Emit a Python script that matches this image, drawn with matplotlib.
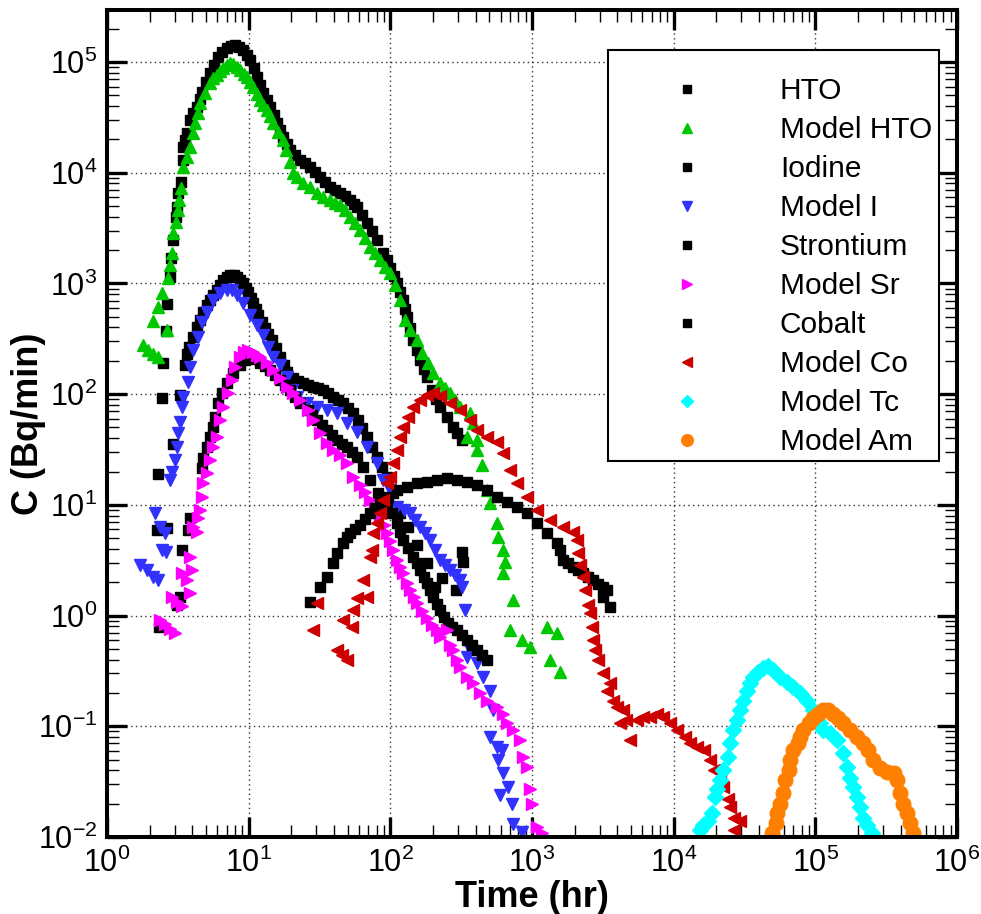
import matplotlib
matplotlib.use("Agg")
import matplotlib.pyplot as plt
from matplotlib.patches import Rectangle
from matplotlib.ticker import FixedLocator, LogFormatterSciNotation, NullFormatter

plt.rcParams['font.family'] = ['Liberation Sans', 'DejaVu Sans']
plt.rcParams['mathtext.fontset'] = 'custom'
plt.rcParams['mathtext.rm'] = 'Liberation Sans'
plt.rcParams['mathtext.it'] = 'Liberation Sans:italic'
plt.rcParams['mathtext.bf'] = 'Liberation Sans:bold'

# ---- data: (time [hr], C [Bq/min]) ----
hto = [(2.25, 5.9), (2.29, 19), (2.44, 92), (2.48, 190), (2.61, 370), (2.65, 650), (2.78, 1140),
       (2.83, 1690), (2.92, 2470), (3.07, 3980), (3.12, 4900), (3.17, 6560), (3.33, 8240),
       (3.44, 13000), (3.44, 17100), (3.55, 19700), (3.67, 22800), (3.85, 29900), (4.05, 34600),
       (4.32, 39200), (4.53, 46300), (4.69, 53600), (5.0, 65900), (5.33, 79500), (5.69, 94000),
       (6.08, 111000), (6.48, 123000), (7.03, 134000), (7.5, 140000), (8.0, 143000), (8.55, 137000),
       (9.12, 128000), (9.73, 116000), (10.2, 104000), (10.9, 88300), (11.5, 73200), (12.0, 62000),
       (12.6, 52500), (13.5, 45400), (14.2, 39200), (15.1, 33200), (15.8, 28100), (16.6, 24300),
       (17.5, 21000), (18.7, 18200), (19.6, 16000), (21.2, 14400), (23.0, 13000), (25.0, 12200),
       (27.1, 11200), (29.4, 10100), (31.9, 9140), (34.6, 8240), (37.5, 7430), (40.7, 6980),
       (44.1, 6560), (47.9, 6160), (51.9, 5660), (55.4, 5210), (58.2, 4900), (63.1, 4150),
       (68.4, 3510), (74.2, 2970), (80.5, 2470), (88.7, 1880), (94.7, 1630), (99.5, 1380),
       (106, 1170), (111, 1010), (117, 836), (123, 708), (127, 590), (131, 497), (138, 395),
       (145, 308), (154, 250), (162, 203), (173, 169), (181, 143), (197, 109), (210, 90.3),
       (224, 76.5), (251, 62.1), (277, 50.4), (296, 44.6), (320, 38.5)]

model_hto = [(1.80, 278), (1.95, 250), (2.11, 230), (2.29, 216), (2.11, 457), (2.29, 612), (2.44, 818),
             (2.65, 379), (2.69, 1120), (2.78, 1470), (2.88, 1880), (2.92, 2850), (3.07, 3590),
             (3.17, 4600), (3.22, 5660), (3.33, 7280), (3.44, 11200), (3.67, 13900), (3.85, 17100),
             (4.05, 22800), (4.18, 28100), (4.39, 34600), (4.53, 42700), (4.92, 52500), (5.33, 64600),
             (5.6, 71700), (5.98, 76300), (6.28, 83000), (6.56, 88000), (7.03, 94000), (7.38, 98000),
             (7.75, 96000), (8.27, 90000), (8.69, 84700), (9.27, 78000), (9.73, 73200), (10.2, 66000),
             (10.7, 59400), (11.5, 51400), (12.0, 45400), (12.6, 40900), (13.5, 36800), (14.2, 32500),
             (14.9, 28100), (16.1, 23300), (17.5, 19700), (18.3, 16000), (19.6, 12500), (20.6, 10000),
             (21.9, 9140), (24.2, 8070), (27.1, 7430), (30.4, 6560), (33.5, 6030), (37.5, 5660),
             (40.7, 5320), (44.1, 5110), (47.9, 4600), (51.9, 3980), (56.3, 3510), (61.1, 3030),
             (66.2, 2570), (71.8, 2130), (78, 1880), (84.5, 1630), (91.7, 1410), (99.5, 1240),
             (108, 968), (117, 708), (127, 467), (138, 379), (154, 308), (167, 235), (184, 191),
             (200, 155), (224, 126), (243, 113), (264, 102), (286, 88.5), (310, 76.4), (365, 67.5),
             (383, 54.8), (409, 38.5), (348, 41), (409, 31.3), (444, 22.9), (481, 13.6), (505, 10.4),
             (566, 6.85), (577, 5.12), (624, 3.91), (647, 3.04), (624, 2.42), (734, 1.38), (699, 0.74),
             (849, 0.60), (968, 0.52), (1276, 0.79), (1500, 0.70), (1340, 0.40), (1577, 0.31)]

iodine = [(2.65, 6.2), (2.92, 35.4), (3.27, 98), (3.55, 183), (3.67, 230), (3.79, 266), (4.05, 328),
          (4.32, 404), (4.53, 467), (4.76, 552), (5.08, 638), (5.33, 708), (5.6, 785), (5.98, 871),
          (6.28, 968), (6.56, 1070), (7.03, 1140), (7.38, 1190), (7.88, 1190), (8.27, 1140),
          (8.69, 1070), (9.12, 1010), (9.58, 908), (9.89, 836), (10.4, 738), (10.7, 665), (11.3, 587),
          (11.6, 519), (12.4, 448), (13.0, 395), (13.7, 350), (14.6, 308), (15.6, 261), (16.6, 216),
          (17.8, 183), (18.7, 158), (20.6, 140), (22.3, 131), (24.2, 126), (26.2, 121), (28.5, 116),
          (30.9, 113), (33.5, 109), (36.3, 102), (39.4, 94), (42.7, 88.5), (46.3, 83.1), (50.3, 74.9),
          (54.5, 67.5), (59.1, 58.3), (63.1, 49.4), (68.4, 41), (74.2, 33.3), (80.5, 27.0),
          (87.3, 21.9), (94.7, 17.8), (104, 12.8), (117, 8.43), (133, 6.3), (154, 4.33), (181, 2.98),
          (207, 1.81), (232, 2.18), (291, 1.70), (320, 3.75), (327, 3.04)]

model_i = [(1.71, 2.86), (1.92, 2.58), (2.11, 2.23), (2.29, 2.09), (2.18, 8.43), (2.37, 6.3), (2.57, 5.56),
           (2.44, 3.91), (2.61, 3.75), (2.78, 16.7), (2.88, 19.8), (3.02, 25.4), (3.12, 33.3),
           (3.17, 44.6), (3.27, 56), (3.38, 76.4), (3.44, 94), (3.73, 129), (3.85, 176), (4.05, 250),
           (4.39, 328), (4.69, 448), (5.08, 552), (5.6, 708), (6.28, 818), (7.03, 871), (7.63, 871),
           (8.27, 785), (9.12, 665), (10.2, 519), (11.5, 421), (12.6, 342), (13.7, 266), (14.9, 216),
           (16.6, 183), (18.7, 143), (20.2, 109), (21.9, 94), (25.8, 83.1), (30.4, 76.4), (35.7, 71.8),
           (42.0, 67.5), (49.4, 54.8), (58.2, 45.5), (68.4, 33.3), (80.5, 23.9), (88.7, 16.7),
           (99.5, 13.6), (111, 9.55), (125, 8.97), (138, 8.43), (149, 7.29), (162, 6.3), (176, 5.56),
           (191, 4.81), (207, 3.91), (224, 3.17), (243, 2.86), (264, 2.58), (286, 2.32), (310, 2.09),
           (320, 1.81), (337, 1.12), (348, 0.42), (365, 0.49), (409, 0.37), (451, 0.28), (505, 0.21),
           (531, 0.14), (505, 0.080), (566, 0.065), (614, 0.061), (577, 0.050), (624, 0.038),
           (677, 0.028), (594, 0.024), (722, 0.020), (734, 0.013), (849, 0.011)]

strontium = [(2.33, 0.79), (3.12, 1.24), (3.27, 1.47), (3.38, 3.91), (3.73, 5.92), (3.85, 7.6), (4.69, 21.5),
             (4.76, 26.5), (5.08, 33.3), (5.33, 41), (5.6, 50.4), (5.78, 62.1), (6.08, 83.1), (6.48, 102),
             (7.03, 126), (7.75, 155), (8.69, 183), (9.42, 203), (10.2, 212), (11.1, 208), (12.0, 191),
             (13.0, 180), (14.2, 165), (15.3, 149), (16.6, 134), (18.0, 121), (19.6, 109), (21.2, 94),
             (23.0, 83.1), (26.2, 71.8), (28.0, 64.8), (30.4, 58.3), (32.9, 52.6), (35.7, 47.4),
             (38.7, 42.7), (42.0, 38.5), (45.6, 35.4), (49.4, 33.3), (53.6, 30), (58.2, 27), (64.1, 21.9),
             (71.8, 16.7), (81.8, 12.8), (94.7, 10.4), (103, 8.43), (111, 6.85), (117, 5.68), (123, 4.81),
             (133, 4.07), (145, 3.37), (154, 2.98), (162, 2.58), (173, 2.23), (181, 1.97), (191, 1.70),
             (200, 1.47), (213, 1.27), (224, 1.12), (239, 0.97), (255, 0.86), (272, 0.79), (296, 0.74),
             (320, 0.67), (348, 0.60), (377, 0.54), (409, 0.49), (444, 0.44), (481, 0.40)]

model_sr = [(2.37, 0.91), (2.57, 0.84), (2.78, 0.76), (3.02, 0.70), (2.88, 1.47), (3.12, 1.32), (3.38, 1.22),
            (3.38, 2.42), (3.67, 2.09), (3.85, 3.37), (3.98, 2.58), (3.85, 1.6), (4.05, 6.3), (4.32, 5.68),
            (4.39, 7.6), (4.53, 8.97), (4.69, 11.8), (4.76, 15.7), (5.08, 19.4), (5.33, 25.4), (5.6, 33.3),
            (5.98, 41), (6.28, 58.3), (6.56, 76.4), (7.15, 102), (7.63, 134), (8.0, 176), (8.69, 216),
            (9.27, 240), (9.89, 250), (10.7, 240), (11.5, 225), (12.0, 216), (13.5, 191), (14.9, 165),
            (16.6, 140), (18.7, 116), (20.6, 102), (23.0, 88.5), (26.2, 71.8), (28.5, 58.3), (31.9, 44.6),
            (35.7, 36.1), (39.4, 31.3), (44.1, 28.2), (49.4, 23.9), (54.5, 17.8), (61.1, 15.1),
            (66.2, 13.1), (71.8, 11.0), (78, 9.35), (84.5, 7.76), (90.2, 6.58), (94.7, 5.56), (99.5, 4.71),
            (104, 3.91), (111, 3.17), (117, 2.74), (123, 2.42), (131, 1.97), (138, 1.70), (147, 1.47),
            (154, 1.29), (167, 1.10), (181, 0.95), (197, 0.82), (213, 0.74), (232, 0.71), (251, 0.74),
            (224, 0.64), (264, 0.54), (277, 0.49), (296, 0.40), (310, 0.34), (348, 0.28), (383, 0.245),
            (430, 0.20), (481, 0.17), (566, 0.149), (624, 0.13), (666, 0.107), (734, 0.092), (823, 0.075),
            (864, 0.053), (925, 0.043), (968, 0.027), (1000, 0.020), (1084, 0.0123), (1170, 0.0108)]

cobalt = [(27.1, 1.32), (31.9, 1.81), (35.7, 2.23), (39.4, 2.98), (42.0, 3.7), (46.3, 4.52), (49.4, 5.12),
          (51.9, 5.56), (56.3, 6.05), (61.1, 6.58), (66.2, 7.45), (71.8, 8.43), (78, 9.35), (84.5, 10.4),
          (96.2, 11.8), (111, 13.6), (131, 14.5), (154, 15.7), (181, 16.1), (213, 16.7), (251, 17.5),
          (296, 16.7), (348, 16.1), (409, 15.1), (481, 13.6), (566, 11.8), (666, 10.6), (784, 9.55),
          (922, 8.43), (1084, 6.85), (1276, 5.56), (1500, 4.52), (1577, 3.91), (1656, 3.17), (1790, 2.98),
          (1946, 2.74), (2100, 2.58), (2290, 2.42), (2480, 2.23), (2697, 2.09), (2920, 1.93),
          (3170, 1.81), (3390, 1.70), (3170, 1.47), (3553, 1.19)]

model_co = [(28.5, 0.74), (30.4, 1.29), (42.0, 0.49), (45.6, 0.44), (49.4, 0.40), (46.3, 0.91), (53.6, 0.79),
            (54.5, 1.12), (58.2, 1.44), (68.4, 1.47), (64.1, 2.09), (71.8, 3.37), (74.2, 3.91), (75.3, 5.56),
            (80.5, 6.85), (84.5, 8.43), (88.7, 11.0), (94.7, 15.7), (99.5, 17.8), (104, 23.9), (111, 31.3),
            (117, 41), (123, 50.4), (133, 62.1), (145, 76.4), (162, 88.5), (181, 98), (200, 102), (224, 96),
            (264, 83.1), (310, 71.8), (365, 58.3), (409, 47.4), (481, 41), (566, 37), (624, 29.4),
            (699, 20.6), (784, 15.7), (922, 11.8), (1084, 8.97), (1340, 7.29), (1656, 6.3), (1946, 5.68),
            (2078, 4.81), (2110, 3.67), (2183, 2.86), (2290, 2.23), (2365, 1.70), (2480, 1.24),
            (2568, 1.05), (2650, 0.79), (2697, 0.60), (2786, 0.49), (2920, 0.40), (3170, 0.30),
            (3390, 0.21), (3553, 0.245), (3730, 0.17), (3970, 0.149), (4180, 0.107), (4390, 0.14),
            (4640, 0.114), (4918, 0.075), (5510, 0.114), (6070, 0.121), (6808, 0.121), (7620, 0.13),
            (8410, 0.121), (9420, 0.107), (10550, 0.092), (12100, 0.080), (13030, 0.070), (14620, 0.065),
            (16270, 0.061), (18040, 0.050), (19110, 0.040), (21220, 0.038), (22300, 0.028),
            (24100, 0.022), (24970, 0.0186), (26500, 0.015), (29380, 0.014), (26500, 0.0115)]

model_tc = [(15330, 0.0115), (16110, 0.0128), (17450, 0.014), (18660, 0.0164), (19640, 0.0229),
            (20300, 0.027), (21220, 0.033), (22300, 0.040), (24100, 0.053), (24970, 0.070),
            (26230, 0.092), (27950, 0.114), (29380, 0.14), (30860, 0.17), (32900, 0.21), (34560, 0.245),
            (36310, 0.28), (39380, 0.31), (42740, 0.336), (46340, 0.35), (50230, 0.32), (56280, 0.28),
            (63100, 0.25), (69400, 0.226), (77910, 0.20), (87400, 0.17), (96200, 0.14), (108000, 0.107),
            (113000, 0.092), (127000, 0.087), (142000, 0.075), (157000, 0.057), (167000, 0.043),
            (176000, 0.034), (185000, 0.028), (197000, 0.0229), (207000, 0.0186), (217000, 0.015),
            (232000, 0.0128), (251000, 0.0108)]

model_am = [(49430, 0.0108), (52800, 0.0135), (53600, 0.0164), (56280, 0.020), (58800, 0.025),
            (61100, 0.033), (65500, 0.040), (66220, 0.050), (69500, 0.061), (75600, 0.070),
            (77910, 0.080), (81800, 0.092), (89500, 0.107), (96200, 0.119), (105000, 0.13),
            (113000, 0.14), (123000, 0.14), (133000, 0.13), (145000, 0.119), (157000, 0.107),
            (176000, 0.092), (197000, 0.080), (217000, 0.070), (236000, 0.061), (255000, 0.050),
            (286000, 0.042), (320000, 0.0386), (357000, 0.038), (377000, 0.033), (396000, 0.025),
            (416000, 0.020), (444000, 0.0164), (466000, 0.0135), (490000, 0.0108)]

series = [
    ("HTO", hto, 's', 'black', 6.8),
    ("Model HTO", model_hto, '^', '#00C800', 8.5),
    ("Iodine", iodine, 's', 'black', 6.8),
    ("Model I", model_i, 'v', '#3232FF', 8.5),
    ("Strontium", strontium, 's', 'black', 6.8),
    ("Model Sr", model_sr, '>', '#FF00FF', 8.5),
    ("Cobalt", cobalt, 's', 'black', 6.8),
    ("Model Co", model_co, '<', '#CC0000', 8.5),
    ("Model Tc", model_tc, 'D', '#00FFFF', 8.0),
    ("Model Am", model_am, 'o', '#FF8000', 10.5),
]

x_major = [10.0 ** k for k in range(0, 7)]
y_major = [10.0 ** k for k in range(-2, 6)]

fig = plt.figure(figsize=(9.81, 9.14), dpi=100)
ax = fig.add_axes([107 / 981, 1 - 837 / 914, 850 / 981, 827 / 914])

for label, pts, mk, col, ms in series:
    t = [p[0] for p in pts]
    c = [p[1] for p in pts]
    ax.plot(t, c, linestyle='none', marker=mk, color=col, mec=col, ms=ms, label=label)

ax.set_xscale('log')
ax.set_yscale('log')
ax.set_xlim(1, 1e6)
ax.set_ylim(1e-2, 2.95e5)

x_minor = [m * v for v in x_major[:-1] for m in range(2, 10)]
y_minor = [m * v for v in y_major for m in range(2, 10) if m * v <= 2.95e5]
ax.xaxis.set_major_locator(FixedLocator(x_major))
ax.yaxis.set_major_locator(FixedLocator(y_major))
ax.xaxis.set_minor_locator(FixedLocator(x_minor))
ax.yaxis.set_minor_locator(FixedLocator(y_minor))
ax.xaxis.set_major_formatter(LogFormatterSciNotation())
ax.yaxis.set_major_formatter(LogFormatterSciNotation())
ax.xaxis.set_minor_formatter(NullFormatter())
ax.yaxis.set_minor_formatter(NullFormatter())

ax.tick_params(which='both', direction='in', top=True, right=True)
ax.tick_params(which='major', length=14.5, width=2.4, labelsize=22)
ax.tick_params(axis='x', which='major', pad=7.5)
ax.tick_params(axis='y', which='major', pad=7)
ax.tick_params(which='minor', length=8.6, width=1.0)
for s in ax.spines.values():
    s.set_linewidth(2.9)

ax.set_axisbelow(True)
ax.grid(True, which='major', linestyle=(0, (1, 2.4)), color='#333333', linewidth=1.0)

ax.set_xlabel('Time (hr)', fontsize=26, fontweight='bold')
ax.set_ylabel('C (Bq/min)', fontsize=26, fontweight='bold')
ax.xaxis.set_label_coords(0.5, -0.052)
ax.yaxis.set_label_coords(-0.072, 0.5)

# legend box (frame drawn as a patch so the box matches the original size)
box = Rectangle((0.589, 0.455), 0.390, 0.497, transform=ax.transAxes, facecolor='white',
                edgecolor='black', linewidth=1.5, zorder=4.9)
ax.add_patch(box)
leg = ax.legend(loc='upper left', bbox_to_anchor=(0.647, 0.9186), borderaxespad=0,
                frameon=False, fontsize=21.5, handlelength=2.0, handletextpad=2.12, borderpad=0,
                labelspacing=0.368, numpoints=1, markerscale=0.8)
leg.set_zorder(5)

fig.savefig('out.png', dpi=100)
